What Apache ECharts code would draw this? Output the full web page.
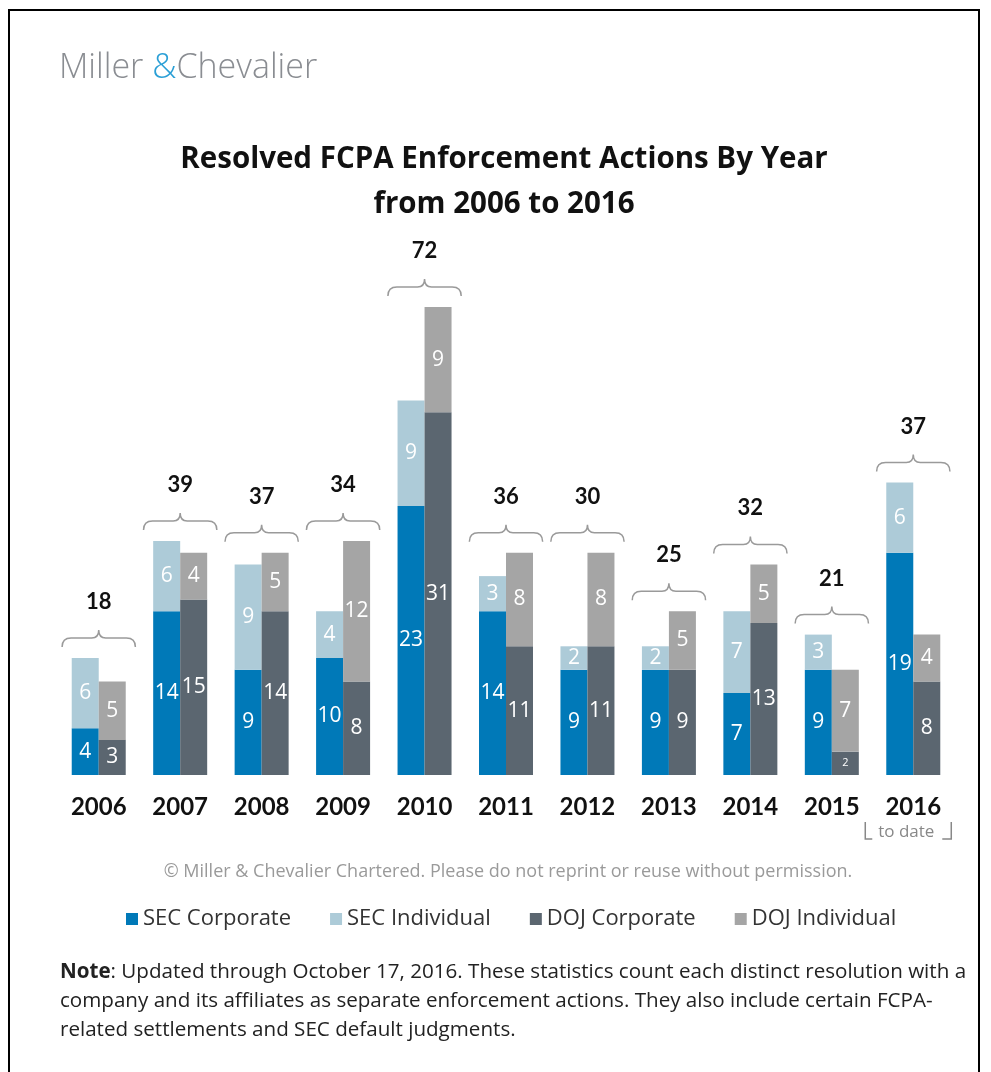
<!DOCTYPE html>
<html>
<head>
<meta charset="utf-8">
<script src="https://cdn.jsdelivr.net/npm/echarts@6/dist/echarts.min.js"></script>
<style>
  html, body { margin: 0; padding: 0; background: #fff; }
  #chart { width: 991px; height: 1072px; }
</style>
</head>
<body>
<div id="chart"></div>
<script>
const years = ['2006', '2007', '2008', '2009', '2010', '2011', '2012', '2013', '2014', '2015', '2016']
const secCorporate = [4, 14, 9, 10, 23, 14, 9, 9, 7, 9, 19]
const secIndividual = [6, 6, 9, 4, 9, 3, 2, 2, 7, 3, 6]
const dojCorporate = [3, 15, 14, 8, 31, 11, 11, 9, 13, 2, 8]
const dojIndividual = [5, 4, 5, 12, 9, 8, 8, 5, 5, 7, 4]

const colors = {
  secCorp: '#0079b8',
  secInd: '#adcbd8',
  dojCorp: '#5b6670',
  dojInd: '#a5a5a5'
}

const font = '"Open Sans", sans-serif'
const boldFont = 'Lato, "Open Sans", sans-serif'

// top of the taller stack and the year's total, for the brace labels
const totals = years.map((y, i) => {
  const sec = secCorporate[i] + secIndividual[i]
  const doj = dojCorporate[i] + dojIndividual[i]
  return [y, Math.max(sec, doj), sec + doj]
})

const barLabel = (size) => ({
  show: true,
  position: 'inside',
  color: '#fff',
  fontFamily: font,
  fontSize: size
})

const makeBar = (name, stack, values, color) => ({
  name,
  type: 'bar',
  stack,
  barWidth: 27,
  barGap: '0%',
  itemStyle: { color },
  label: barLabel(21),
  data: values.map((v) => (v < 3 && stack === 'doj'
    ? { value: v, label: { fontSize: 11 } }
    : v))
})

const renderBrace = (params, api) => {
  const top = api.coord([api.value(0), api.value(1)])
  const base = api.coord([api.value(0), 0])
  const w = api.size([1, 0])[0] * 0.9
  const xc = top[0]
  const x0 = xc - w / 2
  const x1 = xc + w / 2
  const yEnd = top[1] - 11
  const yLine = top[1] - 20
  const yTip = top[1] - 28
  const path = [
    'M', x0, yEnd,
    'Q', x0, yLine, x0 + 9, yLine,
    'L', xc - 7, yLine,
    'Q', xc, yLine, xc, yTip,
    'Q', xc, yLine, xc + 7, yLine,
    'L', x1 - 9, yLine,
    'Q', x1, yLine, x1, yEnd
  ].join(' ')
  const children = [
    {
      type: 'path',
      shape: { pathData: path },
      style: { stroke: '#9a9a9a', lineWidth: 1.5, fill: null }
    },
    {
      type: 'text',
      x: xc,
      y: top[1] - 56,
      style: {
        text: String(api.value(2)),
        font: 'bold 22px ' + boldFont,
        fill: '#111',
        align: 'center',
        verticalAlign: 'middle'
      }
    }
  ]
  if (params.dataIndex === years.length - 1) {
    const l = xc - 48
    const r = xc + 38
    children.push(
      {
        type: 'polyline',
        shape: { points: [[l, base[1] + 47], [l, base[1] + 64], [l + 7, base[1] + 64]] },
        style: { stroke: '#888', lineWidth: 1.5, fill: null }
      },
      {
        type: 'polyline',
        shape: { points: [[r, base[1] + 47], [r, base[1] + 64], [r - 9, base[1] + 64]] },
        style: { stroke: '#888', lineWidth: 1.5, fill: null }
      },
      {
        type: 'text',
        x: xc - 7,
        y: base[1] + 57,
        style: {
          text: 'to date',
          font: '17px ' + font,
          fill: '#888',
          align: 'center',
          verticalAlign: 'middle'
        }
      }
    )
  }
  return { type: 'group', children }
}

const chart = echarts.init(document.getElementById('chart'))

chart.setOption({
  backgroundColor: '#fff',
  animation: false,
  grid: { left: 58, right: 37, top: 190, bottom: 297 },
  legend: {
    data: ['SEC Corporate', 'SEC Individual', 'DOJ Corporate', 'DOJ Individual'],
    left: 121,
    top: 903,
    icon: 'rect',
    itemWidth: 12,
    itemHeight: 12,
    itemGap: 39,
    textStyle: { fontFamily: font, fontSize: 22, color: '#333' }
  },
  xAxis: {
    type: 'category',
    data: years,
    axisLine: { show: false },
    axisTick: { show: false },
    axisLabel: {
      margin: 20,
      fontFamily: boldFont,
      fontWeight: 'bold',
      fontSize: 24,
      color: '#111'
    }
  },
  yAxis: {
    type: 'value',
    min: 0,
    max: 50,
    show: false,
    splitLine: { show: false }
  },
  graphic: [
    {
      type: 'rect',
      shape: { x: 9, y: 10, width: 970, height: 1080 },
      style: { fill: null, stroke: '#000', lineWidth: 2 },
      silent: true
    },
    {
      type: 'text',
      left: 59,
      top: 51,
      style: {
        text: '{a|Miller }{b|&}{a|Chevalier}',
        rich: {
          a: { fontFamily: font, fontSize: 34, fontWeight: 300, fill: '#8a8d92' },
          b: { fontFamily: font, fontSize: 34, fontWeight: 300, fill: '#2a9fd6' }
        }
      }
    },
    {
      type: 'text',
      x: 504,
      y: 160,
      style: {
        text: 'Resolved FCPA Enforcement Actions By Year',
        font: 'bold 29.5px ' + font,
        fill: '#111',
        align: 'center',
        verticalAlign: 'middle'
      }
    },
    {
      type: 'text',
      x: 504,
      y: 205,
      style: {
        text: 'from 2006 to 2016',
        font: 'bold 29.5px ' + font,
        fill: '#111',
        align: 'center',
        verticalAlign: 'middle'
      }
    },
    {
      type: 'text',
      x: 508,
      y: 872,
      style: {
        text: '© Miller & Chevalier Chartered. Please do not reprint or reuse without permission.',
        font: '18px ' + font,
        fill: '#9a9a9a',
        align: 'center',
        verticalAlign: 'middle'
      }
    },
    {
      type: 'text',
      left: 60,
      top: 958,
      style: {
        text: '{b|Note}: Updated through October 17, 2016. These statistics count each distinct resolution with a\ncompany and its affiliates as separate enforcement actions. They also include certain FCPA-\nrelated settlements and SEC default judgments.',
        font: '20.6px ' + font,
        fill: '#222',
        lineHeight: 29,
        rich: {
          b: { fontFamily: font, fontSize: 20.6, fontWeight: 'bold', fill: '#222', lineHeight: 29 }
        }
      }
    }
  ],
  series: [
    makeBar('SEC Corporate', 'sec', secCorporate, colors.secCorp),
    makeBar('SEC Individual', 'sec', secIndividual, colors.secInd),
    makeBar('DOJ Corporate', 'doj', dojCorporate, colors.dojCorp),
    makeBar('DOJ Individual', 'doj', dojIndividual, colors.dojInd),
    {
      name: 'Total',
      type: 'custom',
      renderItem: renderBrace,
      encode: { x: 0, y: 1 },
      silent: true,
      z: 5,
      data: totals
    }
  ]
})
</script>
</body>
</html>
